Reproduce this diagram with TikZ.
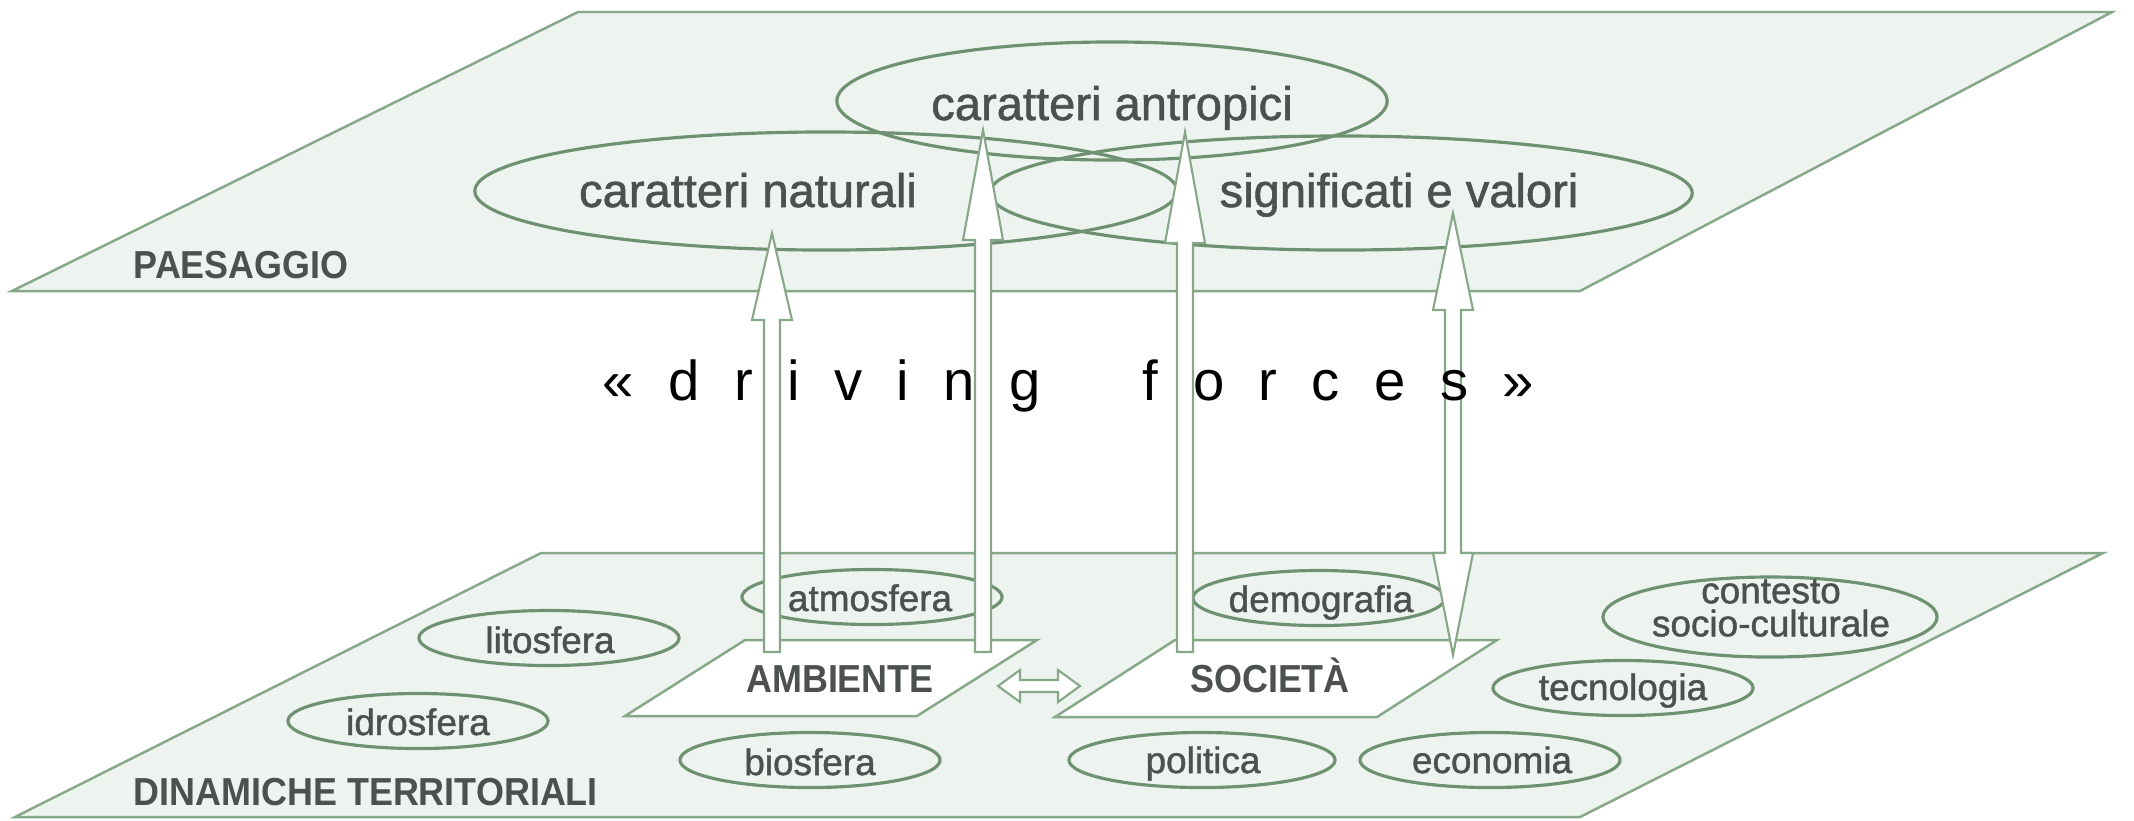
\documentclass[tikz,border=0pt]{standalone}
\usepackage{fontspec}
\usepackage{tikz}
\usetikzlibrary{shapes.geometric}
\usetikzlibrary{calc}
\setmainfont{Liberation Sans}
\newfontfamily\labelfont[FakeBold=1.2]{Liberation Sans}
\newfontfamily\capsfont[FakeStretch=0.92]{Liberation Sans}
\definecolor{planefill}{HTML}{EDF3EF}
\definecolor{planeline}{HTML}{86A888}
\definecolor{ellline}{HTML}{6F9171}
\definecolor{labelgray}{HTML}{4C504E}
\tikzstyle{plane} = [draw=planeline, fill=planefill, line width=0.7pt]
\tikzstyle{fbox} = [draw=planeline, fill=white, line width=0.7pt]
\tikzstyle{bigell} = [ellipse, draw=ellline, line width=0.9pt, inner sep=0pt]
\tikzstyle{smallell} = [ellipse, draw=ellline, line width=0.9pt, inner sep=0pt, minimum width=2.6cm, minimum height=0.55cm]
\tikzstyle{forcearrow} = [draw=planeline, fill=white, line width=0.6pt, line join=miter]
\tikzstyle{toplabel} = [text=labelgray, font=\labelfont\fontsize{13.4}{16}\selectfont, anchor=base, inner sep=0pt]
\tikzstyle{lowlabel} = [text=labelgray, font=\labelfont\fontsize{10.5}{9.4}\selectfont, anchor=base, inner sep=0pt]
\tikzstyle{capslabel} = [text=labelgray, font=\capsfont\bfseries\fontsize{11.1}{13}\selectfont, anchor=base, inner sep=0pt]
\tikzstyle{drivetext} = [text=black, font=\fontsize{16}{19}\selectfont, anchor=base west, inner sep=0pt]
\newcommand{\forcearr}[3]{%
\draw[forcearrow] ($(#1)+(-8,0)$) -- ($(#2)+(-8,#3)$) -- ($(#2)+(-20,#3)$) -- (#2) -- ($(#2)+(20,#3)$) -- ($(#2)+(8,#3)$) -- ($(#1)+(8,0)$) -- cycle;}

\begin{document}
\begin{tikzpicture}[x=0.01cm, y=-0.01cm]
\useasboundingbox (0,0) rectangle (2134,820);
\draw[plane] (578,12) -- (2112,12) -- (1580,291) -- (12,291) -- cycle;
\draw[plane] (541,553) -- (2103,553) -- (1580,817) -- (15,817) -- cycle;

\node[bigell, minimum width=7.02cm, minimum height=1.18cm] (natur) at (826,191) {};
\node[bigell, minimum width=5.5cm, minimum height=1.18cm] (antrop) at (1112,101) {};
\node[bigell, minimum width=7.02cm, minimum height=1.14cm] (signif) at (1341,193) {};

\node[smallell] (atmo) at (872,597) {};
\node[smallell] (bio) at (810,760) {};
\node[smallell] (lito) at (549,638) {};
\node[smallell] (idro) at (418,721) {};
\node[smallell, minimum width=2.52cm] (demo) at (1319,598) {};
\node[smallell, minimum width=2.66cm] (poli) at (1202,760) {};
\node[smallell] (econ) at (1490,760) {};
\node[smallell] (tecno) at (1623,688) {};
\node[smallell, minimum width=3.34cm, minimum height=0.8cm] (contesto) at (1770,617) {};

\draw[fbox] (745,640) -- (1037,640) -- (917,716) -- (625,716) -- cycle;
\draw[fbox] (1175,640) -- (1497,640) -- (1377,717) -- (1055,717) -- cycle;

\coordinate (natfoot) at (772,652);
\coordinate (nattip) at (772,233);
\coordinate (antAfoot) at (983,652);
\coordinate (antAtip) at (983,130);
\coordinate (antSfoot) at (1185,652);
\coordinate (antStip) at (1185,132);
\coordinate (sigfoot) at (1453,655);
\coordinate (sigtip) at (1453,213);
\coordinate (ambR) at (998,686);
\coordinate (socL) at (1080,686);

\forcearr{natfoot}{nattip}{87}
\forcearr{antAfoot}{antAtip}{110}
\forcearr{antSfoot}{antStip}{111}
\draw[forcearrow] (sigfoot) -- ($(sigfoot)+(-20,-102)$) -- ($(sigfoot)+(-8,-102)$) -- ($(sigtip)+(-8,97)$) -- ($(sigtip)+(-20,97)$) -- (sigtip) -- ($(sigtip)+(20,97)$) -- ($(sigtip)+(8,97)$) -- ($(sigfoot)+(8,-102)$) -- ($(sigfoot)+(20,-102)$) -- cycle;
\draw[forcearrow] (ambR) -- ($(ambR)+(22,-16)$) -- ($(ambR)+(22,-6)$) -- ($(socL)+(-22,-6)$) -- ($(socL)+(-22,-16)$) -- (socL) -- ($(socL)+(-22,16)$) -- ($(socL)+(-22,6)$) -- ($(ambR)+(22,6)$) -- ($(ambR)+(22,16)$) -- cycle;

\node[toplabel] (naturtxt) at (748,207) {caratteri naturali};
\node[toplabel] (antroptxt) at (1112,120) {caratteri antropici};
\node[toplabel] (signiftxt) at (1399,207) {significati e valori};
\node[capslabel, anchor=base west] (paes) at (133,278) {PAESAGGIO};
\node[capslabel, anchor=base west] (dinam) at (133,805) {DINAMICHE TERRITORIALI};
\node[capslabel] (amb) at (840,692) {AMBIENTE};
\node[capslabel] (soc) at (1270,692) {SOCIETÀ};
\node[lowlabel] (atmotxt) at (870,611) {atmosfera};
\node[lowlabel] (biotxt) at (810,775) {biosfera};
\node[lowlabel] (litotxt) at (550,653) {litosfera};
\node[lowlabel] (idrotxt) at (418,735) {idrosfera};
\node[lowlabel] (demotxt) at (1321,612) {demografia};
\node[lowlabel] (politxt) at (1203,773) {politica};
\node[lowlabel] (econtxt) at (1492,773) {economia};
\node[lowlabel] (tecnotxt) at (1623,700) {tecnologia};
\node[lowlabel, anchor=center, align=center] (contestotxt) at (1771,608) {contesto\\socio-culturale};
\node[drivetext] (drive) at (602,400) {\spaceskip=9.8pt\relax « d r i v i n g\hspace{29pt}f o r c e s »};
\end{tikzpicture}
\end{document}
